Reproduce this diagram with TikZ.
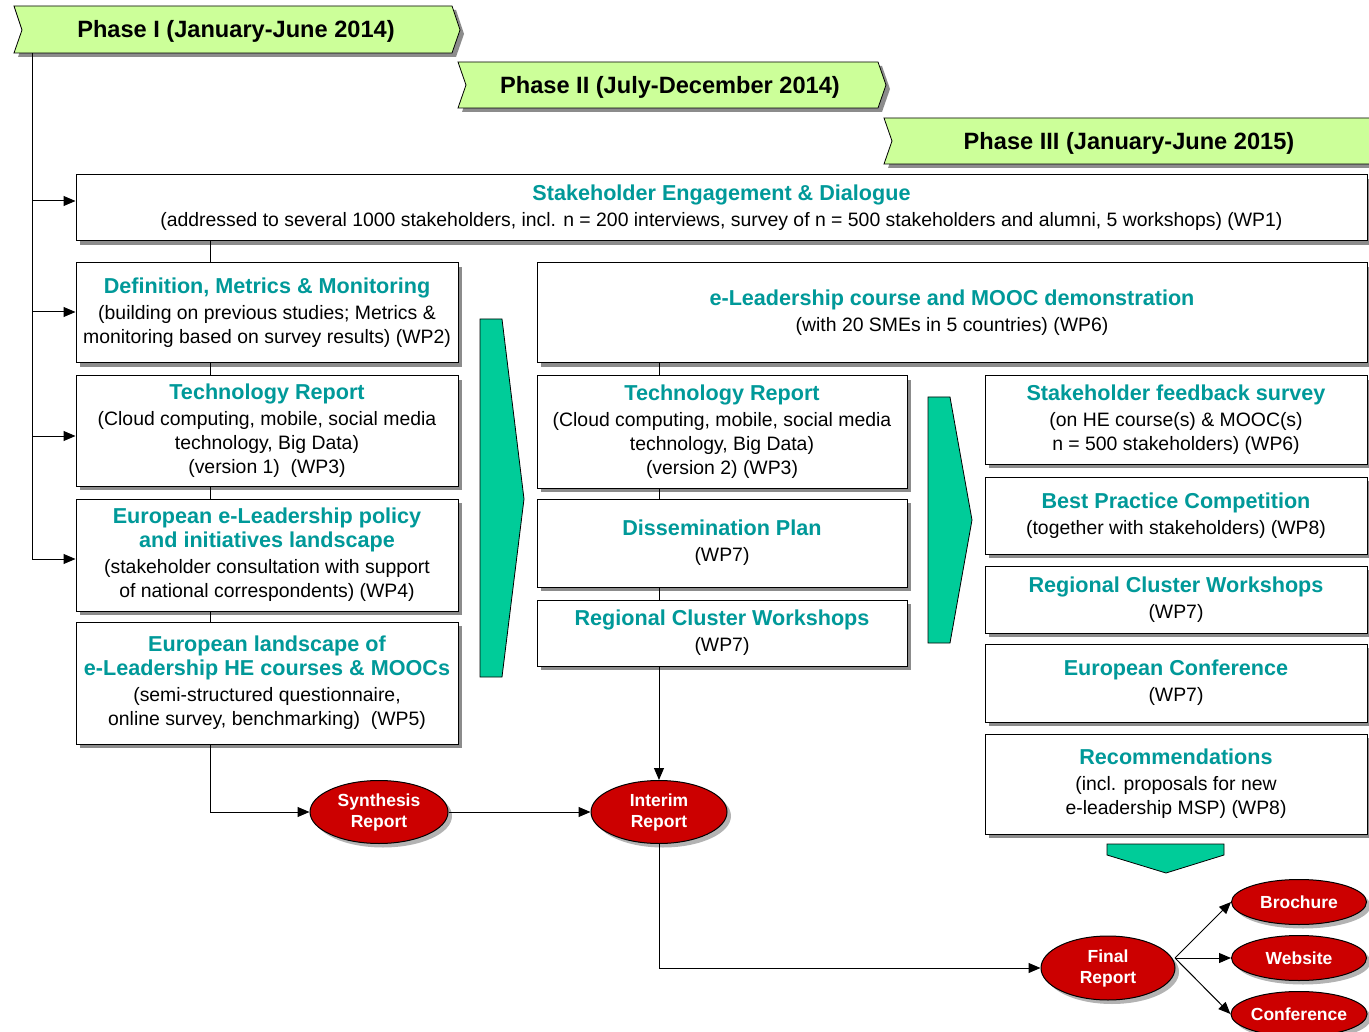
\documentclass[tikz,border=0pt]{standalone}
\usepackage{fontspec}
\setmainfont{Liberation Sans}
\usetikzlibrary{shapes.geometric,shadows,arrows.meta}

\definecolor{wpteal}{RGB}{0,153,153}
\definecolor{phasegreen}{RGB}{204,255,153}
\definecolor{arrowgreen}{RGB}{0,204,153}
\definecolor{reportred}{RGB}{204,0,0}

\newcommand\wpt[1]{{\fontsize{21.6}{26}\selectfont\bfseries\color{wpteal}#1}}

\tikzset{
  wpbox/.style={draw, fill=white, line width=1pt, align=center, inner sep=1pt,
    font=\fontsize{19.4}{24}\selectfont,
    drop shadow={shadow xshift=4pt, shadow yshift=-4pt, fill=black!45, opacity=1}},
  report/.style={ellipse, draw, fill=reportred, line width=1pt, inner sep=0pt,
    align=center, text=white, font=\fontsize{17.5}{21}\selectfont\bfseries,
    drop shadow={shadow xshift=4pt, shadow yshift=-4pt, fill=black!50, opacity=0.6}},
  banner/.style={draw, fill=phasegreen, line width=0.8pt,
    drop shadow={shadow xshift=4pt, shadow yshift=-4pt, fill=black!45, opacity=1}},
  phasetext/.style={font=\fontsize{23.6}{27}\selectfont\bfseries},
  bigarrow/.style={draw, fill=arrowgreen, line width=0.8pt},
}

\begin{document}
\begin{tikzpicture}[x=1pt,y=-1pt,line width=1pt,>={Triangle[length=12pt,width=10pt]}]
  \useasboundingbox (0,0) rectangle (1369,1032);

  %% phase banners
  \draw[banner] (14,6) -- (452,6) -- (460,30) -- (452,53) -- (14,53) -- (22,30) -- cycle;
  \node[phasetext] (phaseI) at (236,31) {Phase I (January-June 2014)};
  \draw[banner] (458,62) -- (878,62) -- (886,85) -- (878,108) -- (458,108) -- (466,85) -- cycle;
  \node[phasetext] (phaseII) at (670,87) {Phase II (July-December 2014)};
  \draw[banner] (884,118) -- (1380,118) -- (1388,141) -- (1380,164) -- (884,164) -- (892,141) -- cycle;
  \node[phasetext] (phaseIII) at (1129,143) {Phase III (January-June 2015)};

  %% work packages
  \node[wpbox, minimum width=1291pt, minimum height=66pt] (sed) at (721.5,208)
    {\wpt{Stakeholder Engagement \& Dialogue}\\[2pt]
     (addressed to several 1000 stakeholders, incl. n = 200 interviews,  survey of n = 500 stakeholders and alumni, 5 workshops) (WP1)};

  \node[wpbox, minimum width=382pt, minimum height=100pt] (def) at (267,313)
    {\wpt{Definition, Metrics \& Monitoring}\\[2pt]
     (building on previous studies; Metrics \&\\monitoring based on survey results) (WP2)};
  \node[wpbox, minimum width=382pt, minimum height=110pt] (tecA) at (267,431)
    {\wpt{Technology Report}\\[2pt]
     (Cloud computing, mobile, social media\\technology, Big Data)\\(version 1)~~(WP3)};
  \node[wpbox, minimum width=382pt, minimum height=112pt] (pol) at (267,555)
    {\wpt{European e-Leadership policy}\\\wpt{and initiatives landscape}\\[2pt]
     (stakeholder consultation with support\\of national correspondents) (WP4)};
  \node[wpbox, minimum width=382pt, minimum height=122pt] (land) at (267,683)
    {\wpt{European landscape of}\\\wpt{e-Leadership HE courses \& MOOCs}\\[2pt]
     (semi-structured questionnaire,\\online survey, benchmarking)~~(WP5)};

  \node[wpbox, minimum width=830pt, minimum height=100pt] (course) at (952,313)
    {\wpt{e-Leadership course and MOOC demonstration}\\[2pt]
     (with 20 SMEs in 5 countries) (WP6)};
  \node[wpbox, minimum width=370pt, minimum height=112pt] (tecB) at (722,432)
    {\wpt{Technology Report}\\[2pt]
     (Cloud computing, mobile, social media\\technology, Big Data)\\(version 2) (WP3)};
  \node[wpbox, minimum width=370pt, minimum height=88pt] (diss) at (722,543)
    {\wpt{Dissemination Plan}\\[2pt](WP7)};
  \node[wpbox, minimum width=370pt, minimum height=66pt] (rcwA) at (722,633)
    {\wpt{Regional Cluster Workshops}\\[2pt](WP7)};

  \node[wpbox, minimum width=382pt, minimum height=88pt] (surv) at (1176,420)
    {\wpt{Stakeholder feedback survey}\\[2pt]
     (on HE course(s) \& MOOC(s)\\n = 500 stakeholders) (WP6)};
  \node[wpbox, minimum width=382pt, minimum height=77pt] (best) at (1176,515.5)
    {\wpt{Best Practice Competition}\\[2pt](together with stakeholders) (WP8)};
  \node[wpbox, minimum width=382pt, minimum height=67pt] (rcwB) at (1176,599.5)
    {\wpt{Regional Cluster Workshops}\\[2pt](WP7)};
  \node[wpbox, minimum width=382pt, minimum height=78pt] (conf) at (1176,683)
    {\wpt{European Conference}\\[2pt](WP7)};
  \node[wpbox, minimum width=382pt, minimum height=100pt] (rec) at (1176,784)
    {\wpt{Recommendations}\\[2pt]
     (incl. proposals for new\\e-leadership MSP) (WP8)};

  %% green arrows between phases
  \draw[bigarrow] (480,319) -- (502,319) -- (524,499) -- (502,677) -- (480,677) -- cycle;
  \draw[bigarrow] (928,397) -- (950,397) -- (972,520) -- (950,643) -- (928,643) -- cycle;
  \draw[bigarrow] (1107,844) -- (1224,844) -- (1224,855) -- (1166,873) -- (1107,855) -- cycle;

  %% reports
  \node[report, minimum width=138pt, minimum height=63pt] (syn) at (379,812) {Synthesis\\Report};
  \node[report, minimum width=136pt, minimum height=63pt] (int) at (659,812) {Interim\\Report};
  \node[report, minimum width=134pt, minimum height=64pt] (fin) at (1108,968) {Final\\Report};
  \node[report, minimum width=135pt, minimum height=45pt] (bro) at (1299,902) {Brochure};
  \node[report, minimum width=135pt, minimum height=45pt] (web) at (1299,958) {Website};
  \node[report, minimum width=135pt, minimum height=45pt] (cnf) at (1299,1014) {Conference};

  %% phase I spine
  \coordinate (spine) at (32,53);
  \draw (spine) -- (32,559);
  \foreach \b/\yy in {sed/201, def/312, tecA/436, pol/559}
    \draw[->] (32,\yy) -- (\b.west |- 0,\yy);

  %% column links
  \foreach \u/\l in {sed/def, def/tecA, tecA/pol, pol/land}
    \draw (\u.south -| 210,0) -- (\l.north -| 210,0);
  \foreach \u/\l in {course/tecB, tecB/diss, diss/rcwA}
    \draw (\u.south -| int) -- (\l.north -| int);

  %% report flow
  \draw[->] (land.south -| 210,0) |- (syn.west);
  \draw[->] (syn) -- (int);
  \draw[->] (rcwA.south -| int) -- (int.north);
  \draw[->] (int.south) |- (fin.west);
  \coordinate (fout) at (1175,958);
  \draw[->] (fout) -- (bro.west);
  \draw[->] (fout) -- (web.west);
  \draw[->] (fout) -- (cnf.west);

\end{tikzpicture}
\end{document}
